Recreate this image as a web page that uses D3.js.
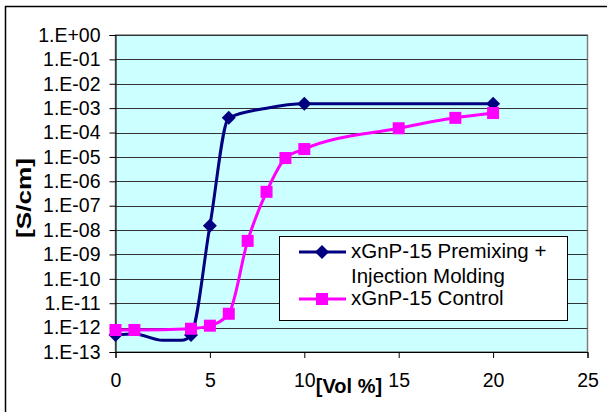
<!DOCTYPE html>
<html>
<head>
<meta charset="utf-8">
<script src="https://cdn.jsdelivr.net/npm/d3@7"></script>
<style>
  body { margin: 0; background: #fff; }
  svg { display: block; font-family: "Liberation Sans", Arial, sans-serif; }
</style>
</head>
<body>
<svg id="chart" width="607" height="412"></svg>
<script>
// --- data ---
const premixVol    = [0, 1, 2.5, 3.5, 4, 5, 6, 8, 10, 20];
const premixCond   = [5e-13, 5.5e-13, 3e-13, 3e-13, 5e-13, 1.5e-8, 4e-4, 1e-3, 1.5e-3, 1.5e-3];
const premixMarker = [1, 0, 0, 0, 1, 1, 1, 0, 1, 1];

const controlVol  = [0, 1, 4, 5, 6, 7, 8, 9, 10, 15, 18, 20];
const controlCond = [8e-13, 8e-13, 9e-13, 1.2e-12, 3.7e-12, 3.6e-9, 3.7e-7, 9e-6, 2.1e-5, 1.5e-4, 4e-4, 6.3e-4];

const xTicks = [0, 5, 10, 15, 20, 25];
const yTicks = d3.range(0, -14, -1).map(e => Math.pow(10, e));
const yTickLabels = d3.range(0, -14, -1).map(e => e === 0 ? '1.E+00' : '1.E-' + String(-e).padStart(2, '0'));

const seriesNames = ['xGnP-15 Premixing +', 'Injection Molding', 'xGnP-15 Control'];

(function() {
  const svg = d3.select('#chart');
  const L = 115.5, R = 587.5, T = 35, B = 352;
  const FONT = '"Liberation Sans", Arial, sans-serif';

  // outer chart border (only left and top fall inside the picture)
  svg.append('rect')
    .attr('x', 5.5).attr('y', 6.5).attr('width', 640).attr('height', 440)
    .attr('fill', '#fff').attr('stroke', '#000').attr('stroke-width', 1.5);

  const x = d3.scaleLinear().domain([0, 25]).range([L, R]);
  const y = d3.scaleLog().domain([1e-13, 1]).range([B, T]);

  // plot area
  svg.append('rect')
    .attr('x', L).attr('y', T).attr('width', R - L).attr('height', B - T)
    .attr('fill', '#ccffff').attr('stroke', '#808080').attr('stroke-width', 1.5);

  // gridlines
  svg.append('g').selectAll('line').data(yTicks).join('line')
    .attr('x1', L).attr('x2', R)
    .attr('y1', d => Math.round(y(d)) + 0.5).attr('y2', d => Math.round(y(d)) + 0.5)
    .attr('stroke', '#333').attr('stroke-width', 1);

  // axes
  const yAxis = d3.axisLeft(y).tickValues(yTicks).tickSize(6)
    .tickFormat((d, i) => yTickLabels[i]);
  const gy = svg.append('g').attr('transform', `translate(${L},0)`).call(yAxis);
  gy.select('.domain').attr('stroke', '#000');
  gy.selectAll('.tick line').attr('stroke', '#000');
  gy.selectAll('.tick text').attr('font-size', 19.5).attr('fill', '#000')
    .attr('font-family', FONT).attr('x', -15);

  const xAxis = d3.axisBottom(x).tickValues(xTicks).tickSize(6).tickFormat(d3.format('d'));
  const gx = svg.append('g').attr('transform', `translate(0,${B})`).call(xAxis);
  gx.select('.domain').attr('stroke', '#000');
  gx.selectAll('.tick line').attr('stroke', '#000');
  gx.selectAll('.tick text').attr('font-size', 19.5).attr('fill', '#000')
    .attr('font-family', FONT).attr('dy', '1.35em');

  // axis titles
  svg.append('text')
    .attr('x', 349).attr('y', 393).attr('text-anchor', 'middle')
    .attr('font-size', 20).attr('font-weight', 'bold').text('[Vol %]');
  svg.append('text')
    .attr('transform', 'translate(31,198) rotate(-90)')
    .attr('text-anchor', 'middle')
    .attr('font-size', 20).attr('font-weight', 'bold')
    .attr('textLength', 80).attr('lengthAdjust', 'spacingAndGlyphs')
    .text('[S/cm]');

  const line = d3.line().curve(d3.curveMonotoneX)
    .x(d => x(d[0])).y(d => y(d[1]));

  const premix = premixVol.map((v, i) => [v, premixCond[i], premixMarker[i]]);
  const control = controlVol.map((v, i) => [v, controlCond[i]]);

  svg.append('path').datum(control).attr('d', line)
    .attr('fill', 'none').attr('stroke', '#ff00ff').attr('stroke-width', 3);
  svg.append('path').datum(premix).attr('d', line)
    .attr('fill', 'none').attr('stroke', '#000080').attr('stroke-width', 3);

  const diamond = 'M0,-7L7,0L0,7L-7,0Z';
  svg.append('g').selectAll('path').data(premix.filter(d => d[2])).join('path')
    .attr('d', diamond)
    .attr('transform', d => `translate(${x(d[0])},${y(d[1])})`)
    .attr('fill', '#000080');
  svg.append('g').selectAll('rect').data(control).join('rect')
    .attr('x', d => x(d[0]) - 6).attr('y', d => y(d[1]) - 6)
    .attr('width', 12).attr('height', 12)
    .attr('fill', '#ff00ff');

  // legend
  const lg = svg.append('g');
  lg.append('rect')
    .attr('x', 279.5).attr('y', 236.5).attr('width', 288).attr('height', 84)
    .attr('fill', '#fff').attr('stroke', '#000').attr('stroke-width', 1);
  lg.append('line').attr('x1', 299).attr('x2', 346).attr('y1', 252).attr('y2', 252)
    .attr('stroke', '#000080').attr('stroke-width', 3);
  lg.append('path').attr('d', diamond).attr('transform', 'translate(322,252)').attr('fill', '#000080');
  lg.append('line').attr('x1', 299).attr('x2', 346).attr('y1', 299).attr('y2', 299)
    .attr('stroke', '#ff00ff').attr('stroke-width', 3);
  lg.append('rect').attr('x', 316).attr('y', 293).attr('width', 12).attr('height', 12).attr('fill', '#ff00ff');
  const ly = [258, 283, 305];
  lg.selectAll('text.lab').data(seriesNames).join('text')
    .attr('class', 'lab')
    .attr('x', 351).attr('y', (d, i) => ly[i])
    .attr('font-size', 20.5).attr('fill', '#000').text(d => d);
})();
</script>
</body>
</html>
